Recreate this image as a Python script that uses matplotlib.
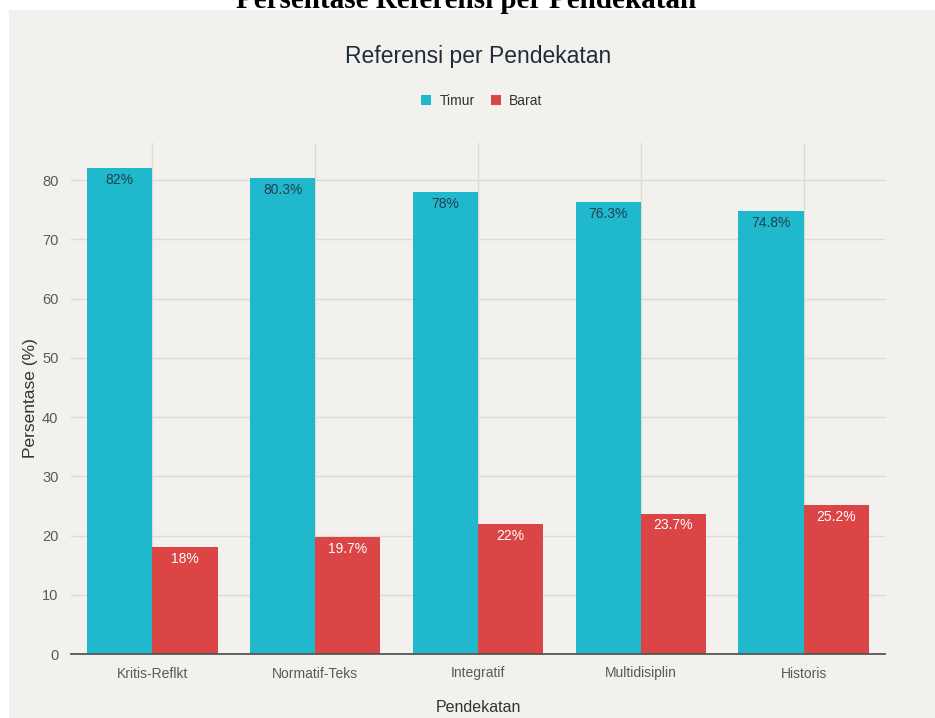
import matplotlib
matplotlib.use("Agg")
import matplotlib.pyplot as plt
import numpy as np

categories = ["Kritis-Reflkt", "Normatif-Teks", "Integratif", "Multidisiplin", "Historis"]
timur = [82, 80.3, 78, 76.3, 74.8]
barat = [18, 19.7, 22, 23.7, 25.2]
timur_labels = ["82%", "80.3%", "78%", "76.3%", "74.8%"]
barat_labels = ["18%", "19.7%", "22%", "23.7%", "25.2%"]
yticks = [0, 10, 20, 30, 40, 50, 60, 70, 80]

CYAN = "#1FB8CD"
RED = "#DB4545"
BG = "#F2F1ED"
SANS = ["Liberation Sans Narrow", "Liberation Sans", "DejaVu Sans"]

plt.rcParams["font.family"] = SANS

W, H = 935, 718
fig = plt.figure(figsize=(W / 100, H / 100), dpi=100, facecolor="white")

# light panel
bgax = fig.add_axes([9 / W, 0, 1 - 9 / W, 1 - 10 / H], zorder=-5)
bgax.set_facecolor(BG)
bgax.set_xticks([])
bgax.set_yticks([])
for s in bgax.spines.values():
    s.set_visible(False)

fig.text(466 / W, 1 - 8 / H, "Persentase Referensi per Pendekatan",
         family=["Liberation Serif", "DejaVu Serif"], weight="bold",
         fontsize=21, ha="center", va="baseline", color="black")

ax = fig.add_axes([71 / W, 1 - 654 / H, (885 - 71) / W, (654 - 143) / H])
ax.set_facecolor("none")

x = np.arange(len(categories))
bw = 0.4
b1 = ax.bar(x - bw / 2, timur, width=bw, color=CYAN, zorder=2, label="Timur")
b2 = ax.bar(x + bw / 2, barat, width=bw, color=RED, zorder=2, label="Barat")

for xi, v, lab in zip(x, timur, timur_labels):
    ax.text(xi - bw / 2, v - 2.0, lab, ha="center", va="center",
            fontsize=10, color="#24404F", zorder=3)
for xi, v, lab in zip(x, barat, barat_labels):
    ax.text(xi + bw / 2, v - 2.0, lab, ha="center", va="center",
            fontsize=10, color="white", zorder=3)

ax.set_xlim(-0.5, len(categories) - 0.5)
ax.set_ylim(0, 86.25)
ax.set_yticks(yticks)
ax.set_xticks(x)
ax.set_xticklabels(categories)
ax.grid(True, color="#DCDCD7", linewidth=1, zorder=0)
ax.set_axisbelow(True)
for s in ["top", "right", "left"]:
    ax.spines[s].set_visible(False)
ax.spines["bottom"].set_color("#555555")
ax.spines["bottom"].set_linewidth(1.3)
ax.tick_params(axis="both", length=0, labelsize=10, colors="#5A5A5A")
ax.tick_params(axis="y", pad=9, labelsize=10.5)
ax.tick_params(axis="x", pad=9)

ax.set_ylabel("Persentase (%)", fontsize=12.5, color="#333333", labelpad=3)
fig.text(478 / W, 1 - 707 / H, "Pendekatan", fontsize=11.5, color="#333333",
         ha="center", va="center")

fig.text(478 / W, 1 - 57 / H, "Referensi per Pendekatan", fontsize=16.5,
         color="#1F2D3A", ha="center", va="center")

fig.legend(handles=[b1[0], b2[0]], labels=["Timur", "Barat"],
           loc="center", bbox_to_anchor=(482 / W, 1 - 101 / H), ncol=2,
           frameon=False, fontsize=10, handlelength=0.7, handleheight=0.7,
           handletextpad=0.6, columnspacing=1.2, labelcolor="#333333")

fig.savefig("out.png", dpi=100, facecolor="white")
